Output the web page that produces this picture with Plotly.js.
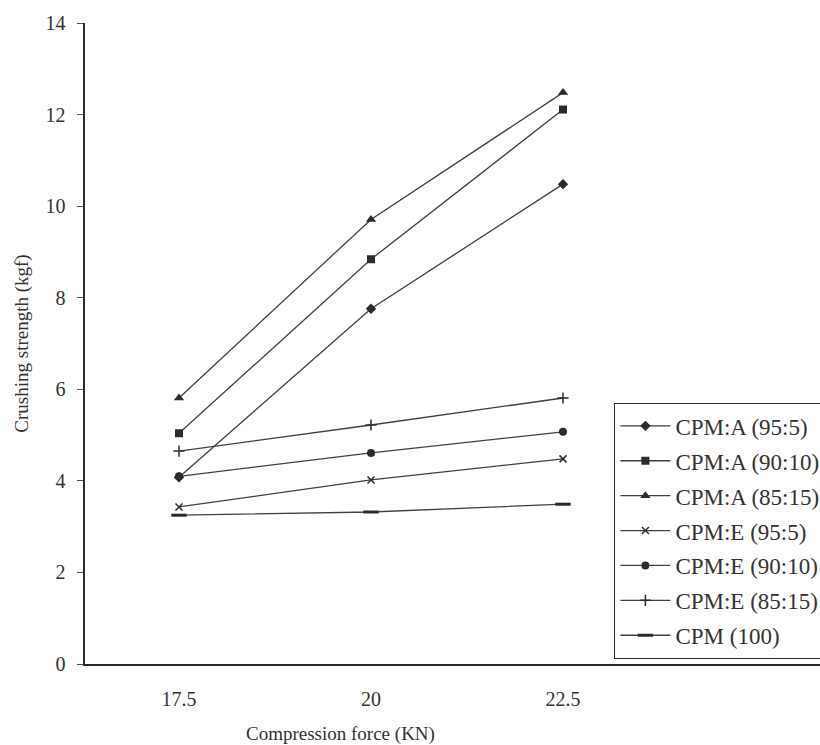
<!DOCTYPE html>
<html>
<head>
<meta charset="utf-8">
<script src="https://cdn.plot.ly/plotly-3.0.1.min.js"></script>
<style>html,body{margin:0;padding:0;background:#fff;}</style>
</head>
<body>
<div id="chart" style="width:820px;height:745px;"></div>
<script>
// Data
var compressionForce = [17.5, 20, 22.5];
var tickLabels = ["17.5", "20", "22.5"];
var seriesNames = ["CPM:A (95:5)", "CPM:A (90:10)", "CPM:A (85:15)", "CPM:E (95:5)", "CPM:E (90:10)", "CPM:E (85:15)", "CPM (100)"];
var cpmA_95_5  = [4.08, 7.76, 10.48];
var cpmA_90_10 = [5.04, 8.84, 12.11];
var cpmA_85_15 = [5.81, 9.71, 12.48];
var cpmE_95_5  = [3.43, 4.02, 4.48];
var cpmE_90_10 = [4.10, 4.61, 5.07];
var cpmE_85_15 = [4.65, 5.22, 5.81];
var cpm_100    = [3.25, 3.32, 3.49];
var xTitle = "Compression force (KN)";
var yTitle = "Crushing strength (kgf)";

var seriesValues = [cpmA_95_5, cpmA_90_10, cpmA_85_15, cpmE_95_5, cpmE_90_10, cpmE_85_15, cpm_100];
var symbols = ["diamond", "square", "triangle-up", "x-thin", "circle", "cross-thin", "line-ew"];
var sizes = [8, 8, 9, 7, 8, 8, 11];
var ink = "#2b2b2b";

var traces = seriesValues.map(function (vals, i) {
  var sym = symbols[i];
  var open = (sym === "x-thin" || sym === "cross-thin" || sym === "line-ew");
  return {
    type: "scatter",
    mode: "lines+markers",
    name: seriesNames[i],
    legendgroup: "g" + i,
    x: compressionForce,
    y: vals,
    cliponaxis: false,
    line: {color: "#404040", width: 1.3},
    marker: {
      symbol: sym,
      size: sizes[i],
      color: ink,
      line: {color: ink, width: open ? (sym === "line-ew" ? 3 : 1.5) : 0}
    }
  };
});

var serif = "'Liberation Serif', 'Times New Roman', Times, serif";
var L = 85, R = 0, T = 23, B = 81;
var plotW = 820 - L - R;
var plotH = 745 - T - B;
var pxPerUnit = 76.8;               // spacing of the three categories
var xMin = 17.5 - (179 - L) / pxPerUnit;
var xMax = xMin + plotW / pxPerUnit;

var layout = {
  width: 820,
  height: 745,
  margin: {l: L, r: R, t: T, b: B, pad: 0, autoexpand: false},
  paper_bgcolor: "#ffffff",
  plot_bgcolor: "#ffffff",
  showlegend: true,
  font: {family: serif, color: "#2b2b2b", size: 15},
  xaxis: {
    range: [xMin, xMax],
    tickvals: compressionForce,
    ticktext: tickLabels,
    showgrid: false,
    zeroline: false,
    showline: true,
    linecolor: "#2b2b2b",
    linewidth: 1.6,
    ticks: "",
    ticklabelstandoff: 16,
    tickfont: {family: serif, size: 20, color: "#333"}
  },
  yaxis: {
    range: [0, 14],
    tickvals: [0, 2, 4, 6, 8, 10, 12, 14],
    showgrid: false,
    zeroline: false,
    showline: true,
    linecolor: "#2b2b2b",
    linewidth: 1.6,
    ticks: "outside",
    ticklen: 6,
    tickcolor: "#555",
    ticklabelstandoff: 8,
    tickfont: {family: serif, size: 20, color: "#333"},
    title: {text: yTitle, font: {family: serif, size: 19, color: "#333"}, standoff: 12}
  },
  annotations: [{
    text: xTitle,
    xref: "paper", yref: "paper",
    x: (340 - L) / plotW,
    y: -(734 - 664) / plotH,
    xanchor: "center", yanchor: "middle",
    showarrow: false,
    font: {family: serif, size: 19, color: "#333"}
  }],
  legend: {
    x: (614 - L) / plotW,
    y: (664 - 403) / plotH,
    xanchor: "left",
    yanchor: "top",
    bgcolor: "#ffffff",
    bordercolor: "#2b2b2b",
    borderwidth: 1.4,
    traceorder: "grouped",
    tracegroupgap: 2,
    itemwidth: 50,
    font: {family: serif, size: 23, color: "#333"}
  }
};

Plotly.newPlot("chart", traces, layout, {displayModeBar: false, staticPlot: true});
</script>
</body>
</html>
